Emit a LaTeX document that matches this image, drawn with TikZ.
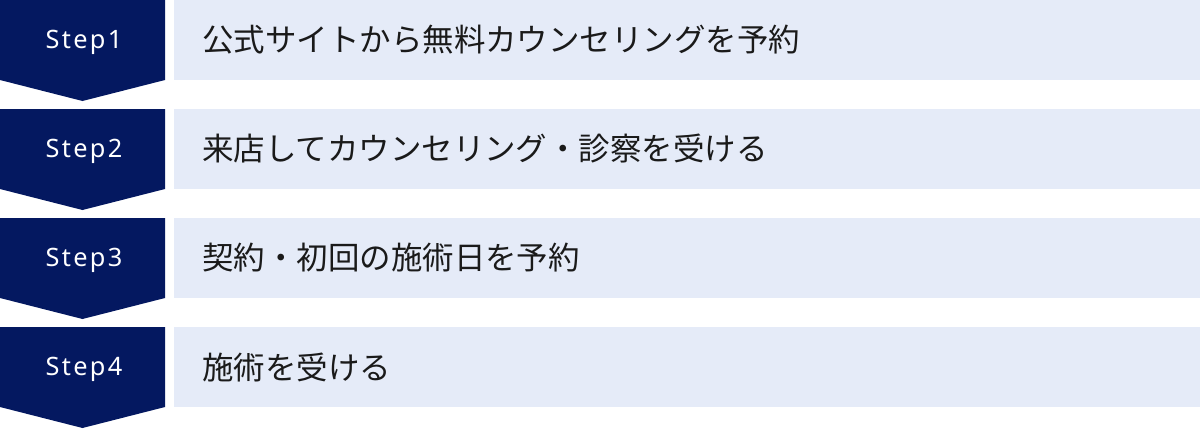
\documentclass[tikz,border=0pt]{standalone}
\usepackage{fontspec}
\setmainfont{Noto Sans}
\newfontfamily\jpfont{Noto Sans CJK JP}
\newfontfamily\stepfont[LetterSpace=9]{Noto Sans}
\usepackage{tikz}

\definecolor{navy}{RGB}{4,24,96}
\definecolor{paleblue}{RGB}{229,235,248}
\definecolor{ink}{RGB}{26,26,26}

\begin{document}
\begin{tikzpicture}[x=0.75pt,y=-0.75pt,
	chevron/.style={fill=navy,draw=none},
	bar/.style={fill=paleblue,draw=none},
	steplabel/.style={white,inner sep=0pt,font=\stepfont\fontsize{19}{23}\selectfont},
	tasklabel/.style={ink,anchor=west,inner sep=0pt,font=\jpfont\fontsize{23.6}{28}\selectfont}]
	\useasboundingbox (0,0) rectangle (1200,429);
	
	%CHEVRONS
	\fill[chevron] (0,0) -- (165,0) -- (165,80) -- (82.5,101) -- (0,80) -- cycle;
	\fill[chevron] (0,109) -- (165,109) -- (165,189) -- (82.5,210) -- (0,189) -- cycle;
	\fill[chevron] (0,218) -- (165,218) -- (165,298) -- (82.5,319) -- (0,298) -- cycle;
	\fill[chevron] (0,327) -- (165,327) -- (165,407) -- (82.5,428) -- (0,407) -- cycle;
	
	%BARS
	\fill[bar] (174,0) rectangle (1200,80);
	\fill[bar] (174,109) rectangle (1200,189);
	\fill[bar] (174,218) rectangle (1200,298);
	\fill[bar] (174,327) rectangle (1200,407);
	
	%LABELS
	\node[steplabel,anchor=base] (step1) at (84,48) {Step1};
	\node[steplabel,anchor=base] (step2) at (84,157) {Step2};
	\node[steplabel,anchor=base] (step3) at (84,266) {Step3};
	\node[steplabel,anchor=base] (step4) at (84,375) {Step4};
	%
	\node[tasklabel] (task1) at (202,40) {公式サイトから無料カウンセリングを予約};
	\node[tasklabel] (task2) at (202,149) {来店してカウンセリング・診察を受ける};
	\node[tasklabel] (task3) at (202,258) {契約・初回の施術日を予約};
	\node[tasklabel] (task4) at (202,367) {施術を受ける};
\end{tikzpicture}
\end{document}
